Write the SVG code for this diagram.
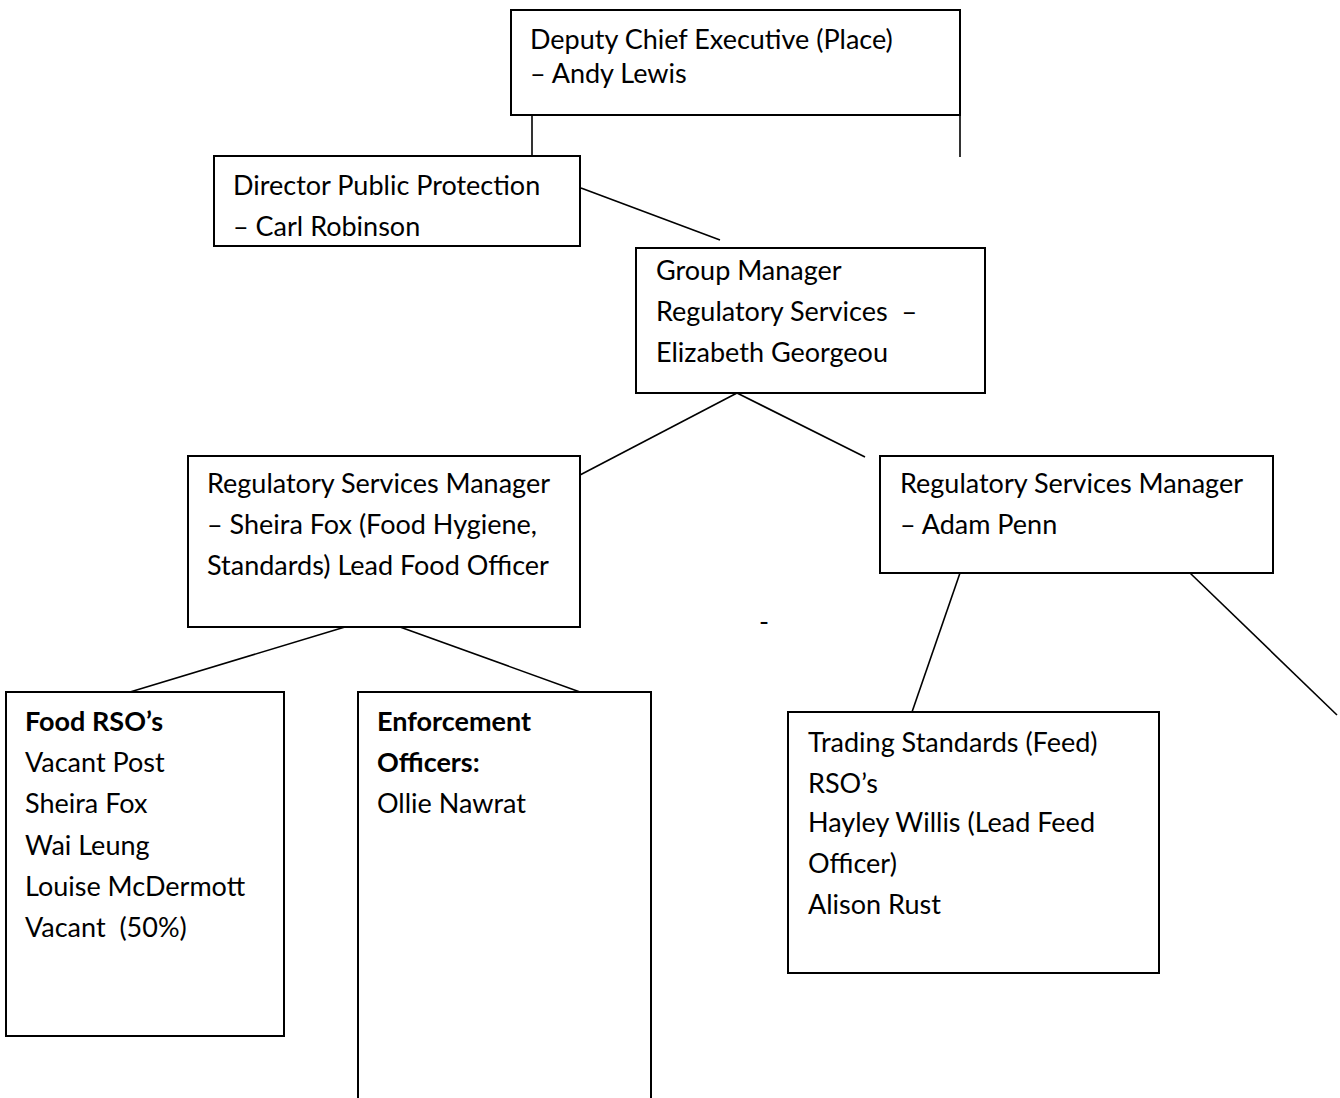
<svg xmlns="http://www.w3.org/2000/svg" width="1340" height="1098" viewBox="0 0 1340 1098">
<style>
.box{fill:#fff;stroke:#000;stroke-width:2}
.ln{stroke:#000;stroke-width:1.6;fill:none}
text{font-family:Lato,"Liberation Sans",sans-serif;font-size:27px;fill:#000}
.b{font-weight:bold}
</style>
<rect width="1340" height="1098" fill="#fff"/>
<g id="connectors">
<line class="ln" x1="532" y1="115" x2="532" y2="156"/>
<line class="ln" x1="960" y1="115" x2="960" y2="157"/>
<line class="ln" x1="581" y1="188" x2="720" y2="240"/>
<line class="ln" x1="737" y1="393" x2="580" y2="475"/>
<line class="ln" x1="737" y1="393" x2="865" y2="457"/>
<line class="ln" x1="345" y1="627" x2="130" y2="692"/>
<line class="ln" x1="400" y1="627" x2="580" y2="692"/>
<line class="ln" x1="960" y1="573" x2="912" y2="712"/>
<line class="ln" x1="1190" y1="573" x2="1337" y2="715"/>
</g>
<g id="deputy">
<rect class="box" x="511" y="10" width="449" height="105"/>
<text x="530" y="49">Deputy Chief Executive (Place)</text>
<text x="530" y="83">– Andy Lewis</text>
</g>
<g id="director">
<rect class="box" x="214" y="156" width="366" height="90"/>
<text x="233" y="195">Director Public Protection</text>
<text x="233" y="236">– Carl Robinson</text>
</g>
<g id="group-manager">
<rect class="box" x="636" y="248" width="349" height="145"/>
<text x="656" y="280">Group Manager</text>
<text x="656" y="321" xml:space="preserve">Regulatory Services  –</text>
<text x="656" y="362">Elizabeth Georgeou</text>
</g>
<g id="rsm-sheira">
<rect class="box" x="188" y="456" width="392" height="171"/>
<text x="207" y="493">Regulatory Services Manager</text>
<text x="207" y="534">– Sheira Fox (Food Hygiene,</text>
<text x="207" y="575">Standards) Lead Food Officer</text>
</g>
<g id="rsm-adam">
<rect class="box" x="880" y="456" width="393" height="117"/>
<text x="900" y="493">Regulatory Services Manager</text>
<text x="900" y="534">– Adam Penn</text>
</g>
<text x="759" y="631">-</text>
<g id="food-rso">
<rect class="box" x="6" y="692" width="278" height="344"/>
<text class="b" x="25" y="731">Food RSO’s</text>
<text x="25" y="772">Vacant Post</text>
<text x="25" y="813">Sheira Fox</text>
<text x="25" y="855">Wai Leung</text>
<text x="25" y="896">Louise McDermott</text>
<text x="25" y="937" xml:space="preserve">Vacant  (50%)</text>
</g>
<g id="enforcement">
<rect class="box" x="358" y="692" width="293" height="420"/>
<text class="b" x="377" y="731">Enforcement</text>
<text class="b" x="377" y="772">Officers:</text>
<text x="377" y="813">Ollie Nawrat</text>
</g>
<g id="trading-standards">
<rect class="box" x="788" y="712" width="371" height="261"/>
<text x="808" y="752">Trading Standards (Feed)</text>
<text x="808" y="793">RSO’s</text>
<text x="808" y="832">Hayley Willis (Lead Feed</text>
<text x="808" y="873">Officer)</text>
<text x="808" y="914">Alison Rust</text>
</g>
</svg>
